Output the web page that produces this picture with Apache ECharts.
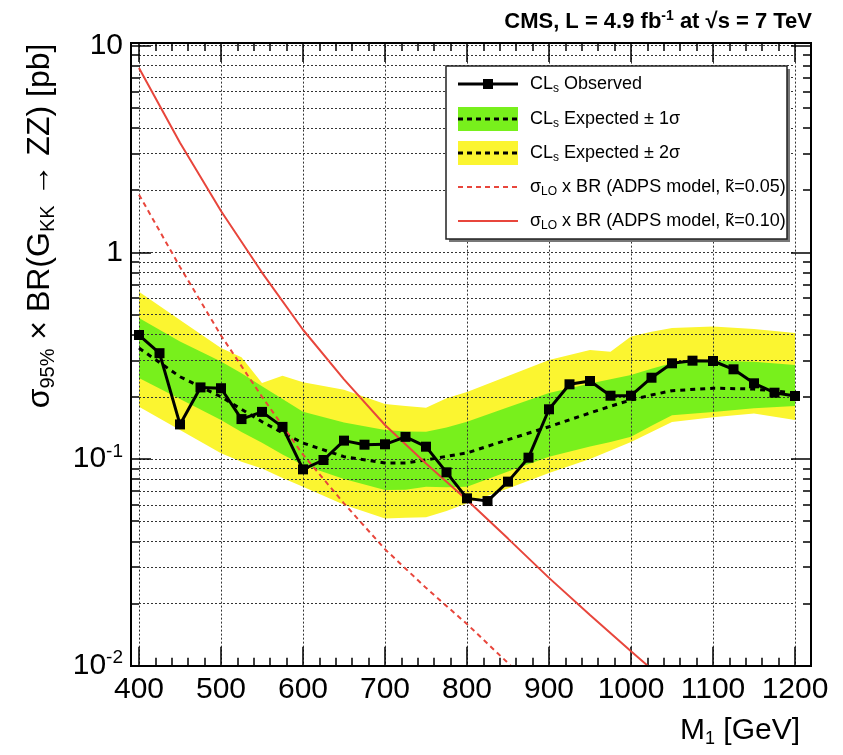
<!DOCTYPE html>
<html>
<head>
<meta charset="utf-8">
<script src="https://cdn.jsdelivr.net/npm/echarts@6/dist/echarts.min.js"></script>
<style>
  html, body { margin: 0; padding: 0; background: #ffffff; }
  #chart { width: 843px; height: 755px; }
</style>
</head>
<body>
<div id="chart"></div>
<script>
// Graviton mass points of the observed CLs limit (GeV) and the limit values (pb)
const obsMass = [400, 425, 450, 475, 500, 525, 550, 575, 600, 625, 650, 675, 700, 725, 750, 775, 800,
                 825, 850, 875, 900, 925, 950, 975, 1000, 1025, 1050, 1075, 1100, 1125, 1150, 1175, 1200];
const obsLimit = [0.398, 0.325, 0.147, 0.222, 0.220, 0.156, 0.169, 0.143, 0.0891, 0.0989, 0.1227, 0.1173,
                  0.1178, 0.128, 0.1147, 0.0862, 0.0645, 0.0626, 0.0777, 0.1015, 0.174, 0.2298, 0.2384,
                  0.2024, 0.2024, 0.2473, 0.2904, 0.299, 0.2979, 0.2716, 0.2324, 0.2093, 0.2017];

// Expected limit: median and the 1 sigma / 2 sigma bands
const expMass = [400, 450, 500, 525, 550, 575, 600, 650, 700, 725, 750, 775, 800, 850, 900, 950, 975,
                 1000, 1025, 1050, 1100, 1150, 1200];
const expMedian = [0.344, 0.25, 0.2, 0.174, 0.1515, 0.134, 0.1195, 0.1026, 0.0957, 0.0957, 0.0989, 0.103,
                   0.107, 0.124, 0.1433, 0.167, 0.18, 0.193, 0.204, 0.214, 0.22, 0.218, 0.2086];
const exp1Lo = [0.2465, 0.195, 0.1544, 0.135, 0.12, 0.105, 0.0935, 0.08, 0.0708, 0.071, 0.0734, 0.073,
                0.0734, 0.087, 0.1026, 0.115, 0.121, 0.128, 0.145, 0.163, 0.169, 0.176, 0.1805];
const exp1Hi = [0.481, 0.37, 0.296, 0.26, 0.225, 0.195, 0.1694, 0.15, 0.138, 0.136, 0.1355, 0.142,
                0.1515, 0.178, 0.2086, 0.232, 0.243, 0.255, 0.273, 0.2913, 0.299, 0.2957, 0.285];
const exp2Lo = [0.179, 0.138, 0.1066, 0.097, 0.09, 0.081, 0.0734, 0.06, 0.0516, 0.052, 0.0522, 0.056,
                0.061, 0.072, 0.0856, 0.10, 0.11, 0.121, 0.135, 0.151, 0.159, 0.166, 0.1544];
const exp2Hi = [0.645, 0.47, 0.344, 0.311, 0.233, 0.253, 0.235, 0.216, 0.1846, 0.1805, 0.177, 0.197,
                0.211, 0.252, 0.301, 0.337, 0.330, 0.391, 0.413, 0.430, 0.437, 0.426, 0.407];

// LO cross section x BR for the ADPS model
const thMass = [400, 450, 500, 550, 600, 650, 700, 750, 800, 850, 900, 950, 1000, 1050];
const thK010 = [7.8, 3.39, 1.585, 0.798, 0.422, 0.243, 0.146, 0.0951, 0.0634, 0.0412, 0.0266, 0.0176, 0.01175, 0.0079];
const thK005 = [1.9, 0.85, 0.396, 0.200, 0.105, 0.061, 0.0366, 0.0238, 0.0159, 0.0103, 0.0066, null, null, null];

// Axis ticks
const xTickMin = 400, xTickMax = 1200, xTickStep = 100;
const yMinorLog = [];
[-2, -1, 0].forEach(function (p) {
  for (let k = 2; k <= 9; k++) yMinorLog.push(Math.log10(k) + p);
});

const FONT = '"Liberation Sans", Arial, Helvetica, sans-serif';
const GREEN = '#78f01c';
const YELLOW = '#fbf530';
const RED = '#e8463c';
const GRID_LINE = { show: true, lineStyle: { color: '#333', width: 1, type: [2, 2] } };

function zip(xs, ys) { return xs.map(function (x, i) { return [x, ys[i]]; }); }

function bandSeries(name, lo, hi, color) {
  return {
    name: name,
    type: 'custom',
    z: 0,
    silent: true,
    encode: { x: 0, y: [1, 2] },
    data: expMass.map(function (m, i) { return [m, lo[i], hi[i]]; }),
    renderItem: function (params, api) {
      if (params.dataIndex !== 0) return null;
      const pts = [];
      for (let i = 0; i < expMass.length; i++) pts.push(api.coord([expMass[i], hi[i]]));
      for (let i = expMass.length - 1; i >= 0; i--) pts.push(api.coord([expMass[i], lo[i]]));
      return { type: 'polygon', shape: { points: pts }, style: { fill: color, stroke: null } };
    }
  };
}

const supRich = {
  base: { fontSize: 30, lineHeight: 34, fontFamily: FONT, color: '#000' },
  sup: { fontSize: 19, lineHeight: 14, verticalAlign: 'top', fontFamily: FONT, color: '#000' }
};

const legendRich = {
  t: { fontSize: 18, lineHeight: 22, fontFamily: FONT, color: '#000' },
  s: { fontSize: 12, lineHeight: 10, verticalAlign: 'bottom', fontFamily: FONT, color: '#000' }
};

const chart = echarts.init(document.getElementById('chart'));

// legend rows: symbol box x range and row centres
const LX0 = 458, LX1 = 518, LTX = 530;
const rows = [84, 119, 153, 187, 221];

const legendGraphics = [
  { type: 'rect', shape: { x: 449, y: 69, width: 341, height: 173 }, style: { fill: '#777', stroke: null }, z: 9 },
  { type: 'rect', shape: { x: 446, y: 66, width: 341, height: 173 }, style: { fill: '#fff', stroke: '#222', lineWidth: 1.5 }, z: 10 },
  // observed
  { type: 'line', shape: { x1: LX0, y1: rows[0], x2: LX1, y2: rows[0] }, style: { stroke: '#000', lineWidth: 3 }, z: 11 },
  { type: 'rect', shape: { x: 483, y: rows[0] - 5, width: 10, height: 10 }, style: { fill: '#000' }, z: 11 },
  { type: 'text', x: LTX, y: rows[0], style: { text: '{t|CL}{s|s}{t| Observed}', rich: legendRich, verticalAlign: 'middle' }, z: 11 },
  // 1 sigma
  { type: 'rect', shape: { x: LX0, y: rows[1] - 12, width: LX1 - LX0, height: 24 }, style: { fill: GREEN }, z: 11 },
  { type: 'line', shape: { x1: LX0, y1: rows[1], x2: LX1, y2: rows[1] }, style: { stroke: '#000', lineWidth: 3, lineDash: [5, 4] }, z: 12 },
  { type: 'text', x: LTX, y: rows[1], style: { text: '{t|CL}{s|s}{t| Expected ± 1σ}', rich: legendRich, verticalAlign: 'middle' }, z: 11 },
  // 2 sigma
  { type: 'rect', shape: { x: LX0, y: rows[2] - 12, width: LX1 - LX0, height: 24 }, style: { fill: YELLOW }, z: 11 },
  { type: 'line', shape: { x1: LX0, y1: rows[2], x2: LX1, y2: rows[2] }, style: { stroke: '#000', lineWidth: 3, lineDash: [5, 4] }, z: 12 },
  { type: 'text', x: LTX, y: rows[2], style: { text: '{t|CL}{s|s}{t| Expected ± 2σ}', rich: legendRich, verticalAlign: 'middle' }, z: 11 },
  // theory k=0.05
  { type: 'line', shape: { x1: LX0, y1: rows[3], x2: LX1, y2: rows[3] }, style: { stroke: RED, lineWidth: 2, lineDash: [5, 4] }, z: 11 },
  { type: 'text', x: LTX, y: rows[3], style: { text: '{t|σ}{s|LO}{t| x BR (ADPS model, k̃=0.05)}', rich: legendRich, verticalAlign: 'middle' }, z: 11 },
  // theory k=0.10
  { type: 'line', shape: { x1: LX0, y1: rows[4], x2: LX1, y2: rows[4] }, style: { stroke: RED, lineWidth: 2 }, z: 11 },
  { type: 'text', x: LTX, y: rows[4], style: { text: '{t|σ}{s|LO}{t| x BR (ADPS model, k̃=0.10)}', rich: legendRich, verticalAlign: 'middle' }, z: 11 }
];

const titleGraphics = [
  // plot frame
  { type: 'rect', shape: { x: 131, y: 43, width: 680, height: 623 }, style: { fill: null, stroke: '#000', lineWidth: 2 }, z: 20, silent: true },
  // experiment label
  { type: 'text', x: 812, y: 22, style: {
      text: '{b|CMS, L = 4.9 fb}{u|-1}{b| at √s = 7 TeV}', align: 'right', verticalAlign: 'middle',
      rich: {
        b: { fontSize: 22, fontWeight: 'bold', fontFamily: FONT, lineHeight: 26, color: '#000' },
        u: { fontSize: 14, fontWeight: 'bold', fontFamily: FONT, lineHeight: 12, verticalAlign: 'top', color: '#000' }
      } }, z: 20 },
  // y title
  { type: 'text', x: 40, y: 226, rotation: Math.PI / 2, style: {
      text: '{m|σ}{s|95%}{m| × BR(G}{s|KK}{m| → ZZ) [pb]}', align: 'center', verticalAlign: 'middle',
      rich: {
        m: { fontSize: 32, fontFamily: FONT, lineHeight: 36, color: '#000' },
        s: { fontSize: 20, fontFamily: FONT, lineHeight: 16, verticalAlign: 'bottom', color: '#000' }
      } }, z: 20 },
  // x title
  { type: 'text', x: 800, y: 731, style: {
      text: '{m|M}{s|1}{m| [GeV]}', align: 'right', verticalAlign: 'middle',
      rich: {
        m: { fontSize: 30, fontFamily: FONT, lineHeight: 34, color: '#000' },
        s: { fontSize: 18, fontFamily: FONT, lineHeight: 14, verticalAlign: 'bottom', color: '#000' }
      } }, z: 20 }
];

function decadeLabel(v) {
  const p = Math.round(Math.log10(v));
  if (p === 1) return '{base|10}';
  if (p === 0) return '{base|1}';
  return '{base|10}{sup|' + p + '}';
}

const xCommon = {
  type: 'value', min: xTickMin, max: xTickMax, interval: xTickStep, z: 1,
  axisLine: { show: false, onZero: false }
};

const option = {
  animation: false,
  backgroundColor: '#ffffff',
  grid: { left: 139, right: 48, top: 45.6, bottom: 89.3, containLabel: false },
  xAxis: [
    Object.assign({}, xCommon, {
      position: 'bottom',
      axisTick: { show: true, inside: true, length: 19, lineStyle: { color: '#000', width: 1.5 } },
      minorTick: { show: true, splitNumber: 5, length: 8, lineStyle: { color: '#000', width: 1.5 } },
      axisLabel: { show: true, fontSize: 30, fontFamily: FONT, color: '#000', margin: 9,
                   formatter: function (v) { return String(v); } },
      splitLine: GRID_LINE
    }),
    Object.assign({}, xCommon, {
      position: 'top', offset: 2.6,
      axisTick: { show: true, inside: true, length: 19, lineStyle: { color: '#000', width: 1.5 } },
      minorTick: { show: true, splitNumber: 5, length: 8, lineStyle: { color: '#000', width: 1.5 } },
      axisLabel: { show: false },
      splitLine: { show: false }
    })
  ],
  yAxis: [
    { // decades, left, with labels
      type: 'log', logBase: 10, min: 0.01, max: 10, position: 'left', offset: 8, z: 1,
      axisLine: { show: false, onZero: false },
      axisTick: { show: true, inside: true, length: 20, lineStyle: { color: '#000', width: 1.5 } },
      axisLabel: { show: true, margin: 8, formatter: decadeLabel, rich: supRich },
      splitLine: GRID_LINE
    },
    { // minor ticks, left (log10 units)
      type: 'value', min: -2, max: 1, position: 'left', offset: 8, z: 1,
      axisLine: { show: false, onZero: false },
      axisTick: { show: true, inside: true, length: 8, customValues: yMinorLog, lineStyle: { color: '#000', width: 1.5 } },
      axisLabel: { show: false },
      splitLine: GRID_LINE
    },
    { // decades, right
      type: 'log', logBase: 10, min: 0.01, max: 10, position: 'right', offset: 16, z: 1,
      axisLine: { show: false, onZero: false },
      axisTick: { show: true, inside: true, length: 20, lineStyle: { color: '#000', width: 1.5 } },
      axisLabel: { show: false },
      splitLine: { show: false }
    },
    { // minor ticks, right
      type: 'value', min: -2, max: 1, position: 'right', offset: 16, z: 1,
      axisLine: { show: false, onZero: false },
      axisTick: { show: true, inside: true, length: 8, customValues: yMinorLog, lineStyle: { color: '#000', width: 1.5 } },
      axisLabel: { show: false },
      splitLine: { show: false }
    }
  ],
  graphic: { elements: legendGraphics.concat(titleGraphics) },
  series: [
    bandSeries('Expected ± 2σ', exp2Lo, exp2Hi, YELLOW),
    bandSeries('Expected ± 1σ', exp1Lo, exp1Hi, GREEN),
    {
      name: 'Expected', type: 'line', z: 3, data: zip(expMass, expMedian),
      showSymbol: false, smooth: false,
      lineStyle: { color: '#000', width: 3, type: [5, 5] }
    },
    {
      name: 'ADPS k=0.05', type: 'line', z: 3, data: zip(thMass, thK005),
      showSymbol: false, connectNulls: false,
      lineStyle: { color: RED, width: 2, type: [5, 4] }
    },
    {
      name: 'ADPS k=0.10', type: 'line', z: 3, data: zip(thMass, thK010),
      showSymbol: false,
      lineStyle: { color: RED, width: 2 }
    },
    {
      name: 'Observed', type: 'line', z: 4, data: zip(obsMass, obsLimit),
      symbol: 'rect', symbolSize: 10, showSymbol: true,
      itemStyle: { color: '#000' },
      lineStyle: { color: '#000', width: 3 }
    }
  ]
};

chart.setOption(option);
</script>
</body>
</html>
